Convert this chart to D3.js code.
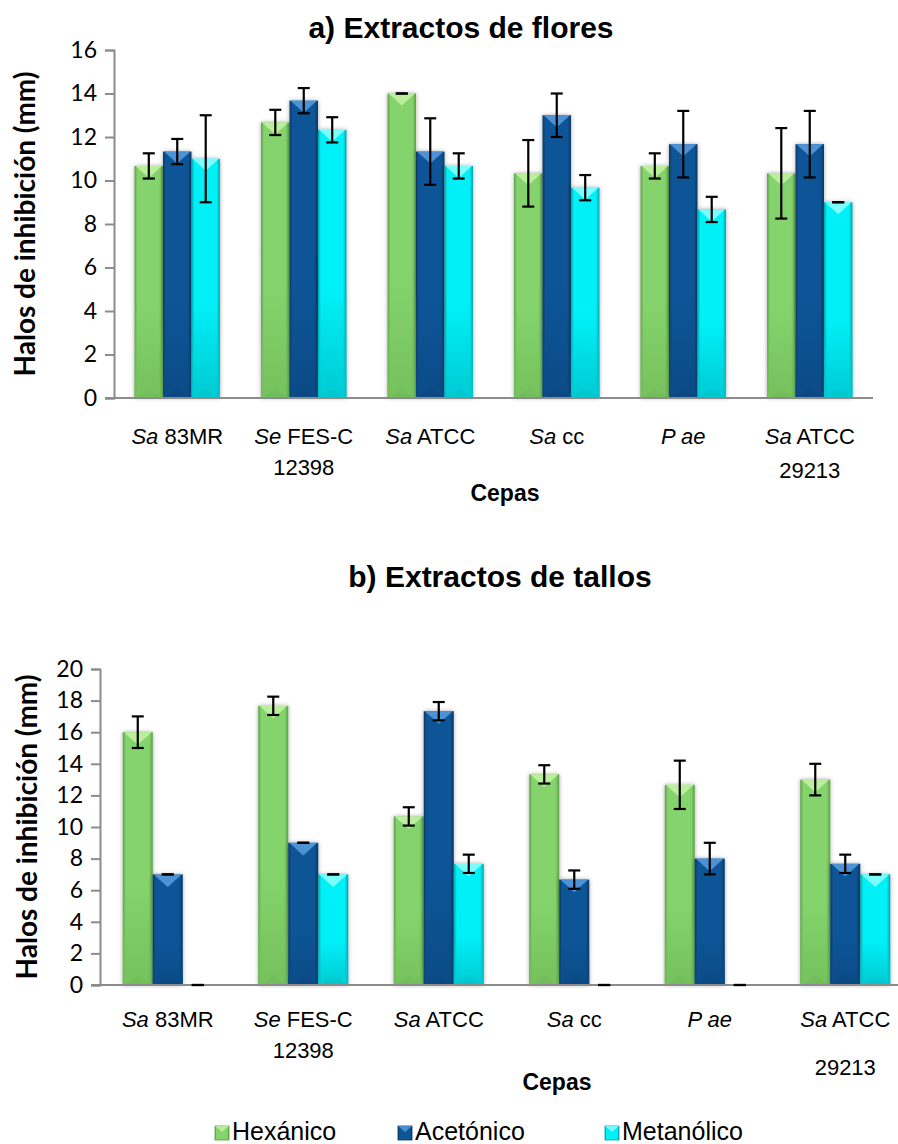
<!DOCTYPE html>
<html><head><meta charset="utf-8">
<script src="https://cdn.jsdelivr.net/npm/d3@7"></script>
<style>body{margin:0;background:#fff}svg{display:block}</style>
</head><body>
<script>
// ---------- data ----------
const catItalic = ["Sa", "Se", "Sa", "Sa", "P ae", "Sa"];
const catRest   = [" 83MR", " FES-C", " ATCC", " cc", "", " ATCC"];
const catLine2  = ["", "12398", "", "", "", "29213"];
const seriesNames = ["Hexánico", "Acetónico", "Metanólico"];
const yTicksFlores = [0, 2, 4, 6, 8, 10, 12, 14, 16];
const yTicksTallos = [0, 2, 4, 6, 8, 10, 12, 14, 16, 18, 20];

const floresHex    = [10.67, 12.67, 14.0, 10.33, 10.67, 10.33];
const floresHexErr = [0.58, 0.58, 0, 1.53, 0.58, 2.08];
const floresAce    = [11.33, 13.67, 11.33, 13.0, 11.67, 11.67];
const floresAceErr = [0.58, 0.58, 1.53, 1.0, 1.53, 1.53];
const floresMet    = [11.0, 12.33, 10.67, 9.67, 8.67, 9.0];
const floresMetErr = [2.0, 0.58, 0.58, 0.58, 0.58, 0];

const tallosHex    = [16.0, 17.67, 10.67, 13.33, 12.67, 13.0];
const tallosHexErr = [1.0, 0.58, 0.58, 0.58, 1.53, 1.0];
const tallosAce    = [7.0, 9.0, 17.33, 6.67, 8.0, 7.67];
const tallosAceErr = [0, 0, 0.58, 0.58, 1.0, 0.58];
const tallosMet    = [0, 7.0, 7.67, 0, 0, 7.0];
const tallosMetErr = [0, 0, 0.58, 0, 0, 0];

// ---------- styles ----------
const pal = [
  {mid:"#84d36c", light:"#c4f2a6", dark:"#5c9f48", bot:"#74c05c"},
  {mid:"#0e5597", light:"#5a9de0", dark:"#07365f", bot:"#0b4a85"},
  {mid:"#00f0f8", light:"#90ffff", dark:"#00a2a8", bot:"#00c6ce"}
];

const W = 898, H = 1144;
const svg = d3.select("body").append("svg").attr("width", W).attr("height", H)
  .attr("font-family", "'Liberation Sans', Arial, sans-serif");
const defs = svg.append("defs");
pal.forEach((p, i) => {
  const gh = defs.append("linearGradient").attr("id", "gh" + i).attr("x1", 0).attr("x2", 1).attr("y1", 0).attr("y2", 0);
  gh.append("stop").attr("offset", 0).attr("stop-color", p.dark);
  gh.append("stop").attr("offset", 0.1).attr("stop-color", p.mid);
  gh.append("stop").attr("offset", 0.88).attr("stop-color", p.mid);
  gh.append("stop").attr("offset", 1).attr("stop-color", p.dark);
  const gv = defs.append("linearGradient").attr("id", "gv" + i).attr("x1", 0).attr("x2", 0).attr("y1", 0).attr("y2", 1);
  gv.append("stop").attr("offset", 0).attr("stop-color", p.bot).attr("stop-opacity", 0);
  gv.append("stop").attr("offset", 0.6).attr("stop-color", p.bot).attr("stop-opacity", 0);
  gv.append("stop").attr("offset", 1).attr("stop-color", p.bot).attr("stop-opacity", 0.9);
});
const f = defs.append("filter").attr("id", "sh").attr("x", "-30%").attr("y", "-10%").attr("width", "160%").attr("height", "120%");
f.append("feDropShadow").attr("dx", 0).attr("dy", 0).attr("stdDeviation", 2).attr("flood-color", "#000").attr("flood-opacity", 0.35);

function chart(cfg) {
  const series = [
    {v: cfg.hex, e: cfg.hexErr},
    {v: cfg.ace, e: cfg.aceErr},
    {v: cfg.met, e: cfg.metErr}
  ];
  const x0 = d3.scaleBand().domain(d3.range(catItalic.length)).range([cfg.x0, cfg.x1])
    .paddingInner(cfg.pad).paddingOuter(cfg.pad / 2);
  const x1 = d3.scaleBand().domain([0, 1, 2]).range([0, x0.bandwidth()]);
  const y = d3.scaleLinear().domain([0, cfg.ymax]).range([cfg.yb, cfg.yt]);
  const g = svg.append("g");

  // title
  g.append("text").attr("x", cfg.titleX).attr("y", cfg.titleY).attr("text-anchor", "middle")
    .attr("font-weight", "bold").attr("font-size", 30).text(cfg.title);

  // y axis
  const ya = g.append("g").attr("transform", `translate(${cfg.x0},0)`)
    .call(d3.axisLeft(y).tickValues(cfg.ticks).tickSize(9).tickPadding(8).tickFormat(d3.format("d")));
  ya.select(".domain").attr("stroke", "#8c8c8c").attr("stroke-width", 2);
  ya.selectAll(".tick line").attr("stroke", "#8c8c8c").attr("stroke-width", 2);
  ya.selectAll(".tick text").attr("font-family", "Lato, 'Open Sans', sans-serif").attr("font-size", 23).attr("fill", "#000");

  // y title
  g.append("text").attr("transform", `translate(${cfg.ytX},${(cfg.yt + cfg.yb) / 2}) rotate(-90)`)
    .attr("text-anchor", "middle").attr("dy", "0.35em")
    .attr("font-family", "Lato, 'Open Sans', sans-serif").attr("font-weight", "bold").attr("font-size", 28)
    .text("Halos de inhibición (mm)");

  // bars
  series.forEach((s, si) => {
    const p = pal[si];
    s.v.forEach((v, ci) => {
      const bx = x0(ci) + x1(si), bw = x1.bandwidth();
      const by = y(v), bh = y(0) - y(v);
      if (bh > 0.5) {
        const bg = g.append("g");
        bg.append("rect").attr("x", bx).attr("y", by).attr("width", bw).attr("height", bh)
          .attr("fill", `url(#gh${si})`).attr("filter", "url(#sh)");
        bg.append("rect").attr("x", bx).attr("y", by).attr("width", bw).attr("height", bh)
          .attr("fill", `url(#gv${si})`);
        const th = Math.min(bw * 0.42, bh);
        bg.append("path").attr("d", `M${bx + 1},${by}L${bx + bw - 1},${by}L${bx + bw / 2},${by + th}Z`)
          .attr("fill", p.light).attr("opacity", 0.85);
        bg.append("path").attr("d", `M${bx + 2},${y(0)}L${bx + bw - 2},${y(0)}L${bx + bw / 2},${y(0) - th * 0.8}Z`)
          .attr("fill", p.dark).attr("opacity", 0.12);
      }
    });
  });

  // x axis line
  g.append("line").attr("x1", cfg.x0 - 9).attr("x2", cfg.x1).attr("y1", y(0)).attr("y2", y(0))
    .attr("stroke", "#8c8c8c").attr("stroke-width", 2);

  // error bars
  series.forEach((s, si) => {
    s.v.forEach((v, ci) => {
      const cx = x0(ci) + x1(si) + x1.bandwidth() / 2;
      const e = s.e[ci];
      const eb = g.append("g").attr("stroke", "#000").attr("stroke-width", 2.2);
      if (e > 0) {
        eb.append("line").attr("x1", cx).attr("x2", cx).attr("y1", y(v + e)).attr("y2", y(v - e));
      }
      eb.append("line").attr("x1", cx - 6).attr("x2", cx + 6).attr("y1", y(v + e)).attr("y2", y(v + e));
      eb.append("line").attr("x1", cx - 6).attr("x2", cx + 6).attr("y1", y(v - e)).attr("y2", y(v - e));
    });
  });

  // category labels
  catItalic.forEach((it, ci) => {
    const cx = x0(ci) + x0.bandwidth() / 2;
    const t = g.append("text").attr("x", cx).attr("y", y(0) + cfg.lab1).attr("text-anchor", "middle")
      .attr("font-size", 22);
    t.append("tspan").attr("font-style", "italic").text(it);
    if (catRest[ci]) t.append("tspan").text(catRest[ci]);
    if (catLine2[ci]) {
      g.append("text").attr("x", cx).attr("y", y(0) + cfg.lab2[ci]).attr("text-anchor", "middle")
        .attr("font-size", 22).text(catLine2[ci]);
    }
  });

  // x title
  g.append("text").attr("x", cfg.xtX).attr("y", y(0) + cfg.xtDy).attr("text-anchor", "middle")
    .attr("font-weight", "bold").attr("font-size", 23).text("Cepas");
}

chart({
  title: "a) Extractos de flores", titleX: 461, titleY: 38,
  hex: floresHex, hexErr: floresHexErr, ace: floresAce, aceErr: floresAceErr, met: floresMet, metErr: floresMetErr,
  x0: 114, x1: 873, yt: 50, yb: 398, ymax: 16, ticks: yTicksFlores, pad: 0.325,
  ytX: 25, lab1: 46, lab2: [0, 77, 0, 0, 0, 80], xtX: 505, xtDy: 103
});
chart({
  title: "b) Extractos de tallos", titleX: 500, titleY: 587,
  hex: tallosHex, hexErr: tallosHexErr, ace: tallosAce, aceErr: tallosAceErr, met: tallosMet, metErr: tallosMetErr,
  x0: 100, x1: 913, yt: 669, yb: 985, ymax: 20, ticks: yTicksTallos, pad: 0.336,
  ytX: 27, lab1: 42, lab2: [0, 73, 0, 0, 0, 90], xtX: 557, xtDy: 105
});

// legend
const legX = [215, 398, 605];
const lg = svg.append("g");
seriesNames.forEach((n, i) => {
  lg.append("rect").attr("x", legX[i]).attr("y", 1126).attr("width", 14).attr("height", 14)
    .attr("fill", `url(#gh${i})`).attr("stroke", pal[i].dark).attr("stroke-width", 0.8);
  lg.append("path").attr("d", `M${legX[i]},1126L${legX[i] + 14},1126L${legX[i] + 7},1132Z`).attr("fill", pal[i].light).attr("opacity", 0.8);
  lg.append("text").attr("x", legX[i] + 17).attr("y", 1140).attr("font-size", 25).text(n);
});
</script>
</body></html>
